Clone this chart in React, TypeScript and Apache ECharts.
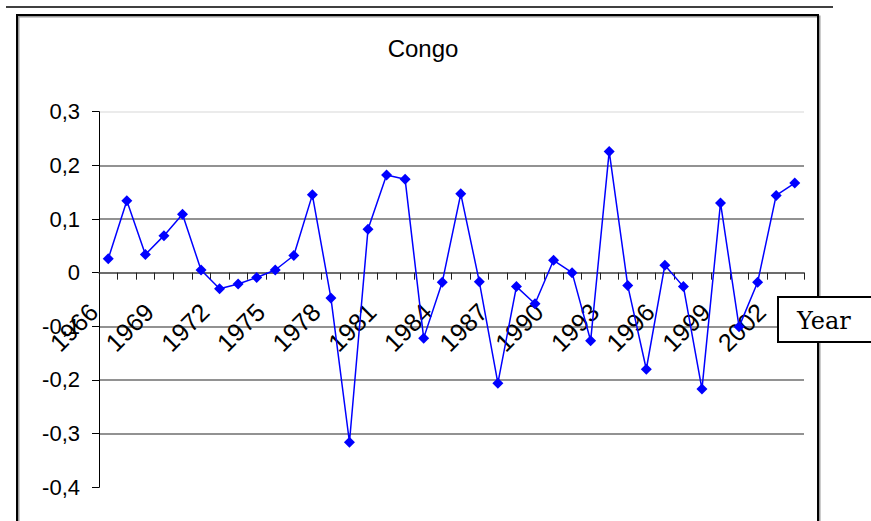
import React, { useEffect, useRef } from "react";
import * as echarts from "echarts";

const years: string[] = [
  "1966", "1967", "1968", "1969", "1970", "1971", "1972", "1973", "1974", "1975",
  "1976", "1977", "1978", "1979", "1980", "1981", "1982", "1983", "1984", "1985",
  "1986", "1987", "1988", "1989", "1990", "1991", "1992", "1993", "1994", "1995",
  "1996", "1997", "1998", "1999", "2000", "2001", "2002", "2003",
];

const congoValues: number[] = [
  0.026, 0.134, 0.034, 0.069, 0.109, 0.005, -0.030, -0.021, -0.009, 0.005,
  0.032, 0.145, -0.047, -0.316, 0.081, 0.182, 0.174, -0.122, -0.018, 0.147,
  -0.017, -0.206, -0.026, -0.058, 0.023, 0.000, -0.127, 0.226, -0.024, -0.180,
  0.014, -0.026, -0.217, 0.130, -0.101, -0.018, 0.144, 0.167,
];

const titleText = "Congo";
const axisNameText = "Year";
const yMin = -0.4;
const yMax = 0.3;
const yStep = 0.1;

export default function App() {
  const ref = useRef<HTMLDivElement>(null);

  useEffect(() => {
    if (!ref.current) return;
    const chart = echarts.init(ref.current, null, { renderer: "svg" });
    const sansFont = "'Liberation Sans', Arial, sans-serif";
    chart.setOption({
      animation: false,
      backgroundColor: "#ffffff",
      title: {
        text: titleText,
        left: 418,
        top: 31,
        textAlign: "center",
        textStyle: {
          fontFamily: sansFont,
          fontSize: 24,
          fontWeight: "normal",
          color: "#000",
        },
      },
      grid: {
        left: 99,
        right: 67,
        top: 111.7,
        bottom: 33.7,
        containLabel: false,
        outerBoundsMode: "none",
      },
      xAxis: {
        type: "category",
        data: years,
        boundaryGap: true,
        offset: 0,
        z: 1,
        axisLine: {
          show: true,
          onZero: false,
          lineStyle: { color: "#606060", width: 1.5 },
        },
        axisTick: {
          show: true,
          interval: 0,
          length: 7,
          lineStyle: { color: "#202020", width: 1 },
        },
        axisLabel: {
          interval: 2,
          rotate: 45,
          margin: 20,
          padding: [0, 21, 0, 0],
          fontFamily: sansFont,
          fontSize: 25,
          color: "#000",
        },
        splitLine: { show: false },
      },
      yAxis: {
        type: "value",
        min: yMin,
        max: yMax,
        interval: yStep,
        axisLine: { show: true, onZero: false, lineStyle: { color: "#000", width: 1 } },
        axisTick: { show: true, length: 7, lineStyle: { color: "#000" } },
        axisLabel: {
          margin: 19,
          fontFamily: sansFont,
          fontSize: 22,
          color: "#000",
          formatter: (v: number) => {
            const r = Math.round(v * 10) / 10;
            if (r === 0) return "0";
            return r.toFixed(1).replace(".", ",");
          },
        },
        splitLine: {
          show: true,
          lineStyle: {
            width: 1.5,
            color: [
              "rgba(0,0,0,0)",
              "#6e6e6e",
              "#6e6e6e",
              "#6e6e6e",
              "#6e6e6e",
              "#6e6e6e",
              "#6e6e6e",
              "#e4e4e4",
            ],
          },
        },
      },
      graphic: [
        {
          type: "line",
          shape: { x1: 6, y1: 7, x2: 833, y2: 7 },
          style: { stroke: "#000", lineWidth: 1.5 },
          z: 100,
        },
        {
          type: "rect",
          shape: { x: 18.5, y: 16.5, width: 801, height: 520 },
          style: { fill: "none", stroke: "#9a9a9a", lineWidth: 2 },
          z: 100,
        },
        {
          type: "rect",
          shape: { x: 17, y: 15, width: 801, height: 520 },
          style: { fill: "none", stroke: "#000", lineWidth: 2 },
          z: 101,
        },
        {
          type: "rect",
          shape: { x: 778, y: 297, width: 100, height: 45 },
          style: { fill: "#fff", stroke: "#000", lineWidth: 2 },
          z: 102,
        },
        {
          type: "text",
          x: 797,
          y: 321,
          style: {
            text: axisNameText,
            fontFamily: "'DejaVu Serif', serif",
            fontSize: 24,
            fill: "#000",
            verticalAlign: "middle",
            align: "left",
          },
          z: 103,
        },
      ],
      series: [
        {
          type: "line",
          data: congoValues,
          symbol: "diamond",
          symbolSize: 11,
          lineStyle: { color: "#0000ff", width: 1.5 },
          itemStyle: { color: "#0000ff" },
          z: 5,
        },
      ],
    });
    // Move the category axis onto the zero line of the value axis.
    const zeroPx = chart.convertToPixel({ yAxisIndex: 0 }, 0) as number;
    const minPx = chart.convertToPixel({ yAxisIndex: 0 }, yMin) as number;
    chart.setOption({ xAxis: { offset: zeroPx - minPx } });
    return () => chart.dispose();
  }, []);

  return (
    <div
      ref={ref}
      style={{ position: "fixed", left: 0, top: 0, width: 871, height: 521 }}
    />
  );
}
